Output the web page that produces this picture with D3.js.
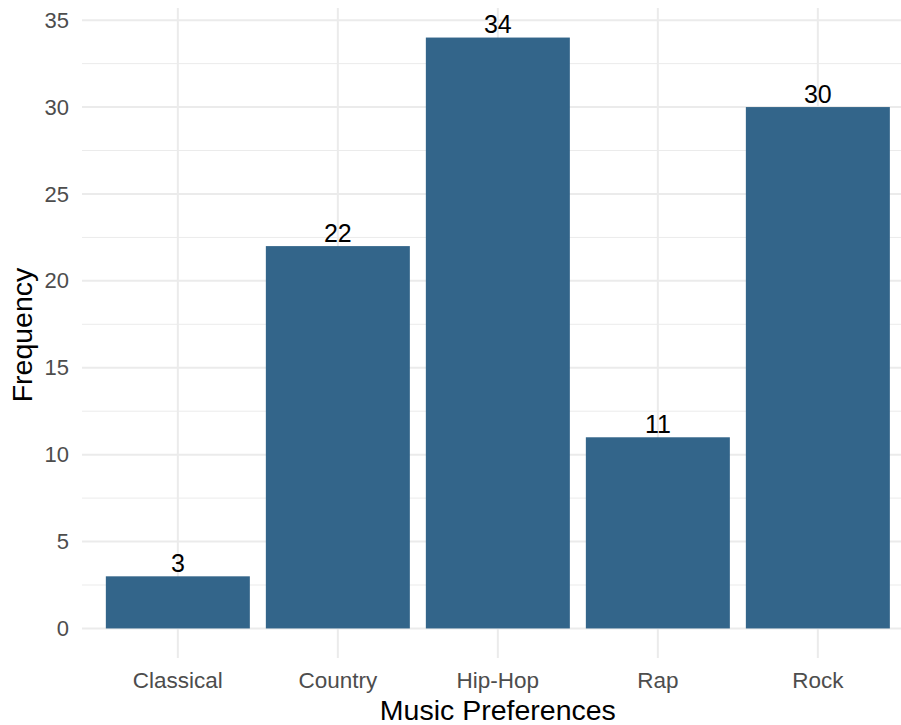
<!DOCTYPE html>
<html><head><meta charset="utf-8">
<script src="https://cdn.jsdelivr.net/npm/d3@7"></script>
<style>body{margin:0;background:#fff}svg{display:block;font-family:"Liberation Sans",Arial,sans-serif}</style>
</head><body>
<script>
const categories = ["Classical","Country","Hip-Hop","Rap","Rock"];
const frequencies = [3,22,34,11,30];
const yTicks = [0,5,10,15,20,25,30,35];
const yMinor = [2.5,7.5,12.5,17.5,22.5,27.5,32.5];
const xTitle = "Music Preferences";
const yTitle = "Frequency";

(function(){
const W = 901, H = 725;
const pL = 82, pR = 913.7, pT = 8, pB = 658;
const svg = d3.select("body").append("svg").attr("width", W).attr("height", H);

const x = d3.scaleBand().domain(categories).range([pL, pR]).paddingInner(0.1).paddingOuter(0.149);
const y = d3.scaleLinear().domain([-1.7, 35.7]).range([pB, pT]);

const grid = svg.append("g");
grid.selectAll(".minor").data(yMinor).join("line")
  .attr("x1", pL).attr("x2", W).attr("y1", d => y(d)).attr("y2", d => y(d))
  .attr("stroke", "#ebebeb").attr("stroke-width", 1);
grid.selectAll(".major").data(yTicks).join("line")
  .attr("x1", pL).attr("x2", W).attr("y1", d => y(d)).attr("y2", d => y(d))
  .attr("stroke", "#ebebeb").attr("stroke-width", 2);
grid.selectAll(".vx").data(categories).join("line")
  .attr("x1", d => x(d) + x.bandwidth()/2).attr("x2", d => x(d) + x.bandwidth()/2)
  .attr("y1", pT).attr("y2", pB)
  .attr("stroke", "#ebebeb").attr("stroke-width", 2);

svg.append("g").selectAll("rect").data(categories).join("rect")
  .attr("x", d => x(d)).attr("width", x.bandwidth())
  .attr("y", (d,i) => y(frequencies[i])).attr("height", (d,i) => y(0) - y(frequencies[i]))
  .attr("fill", "#33658a");

svg.append("g").selectAll("text").data(categories).join("text")
  .attr("x", d => x(d) + x.bandwidth()/2).attr("y", (d,i) => y(frequencies[i]) - 4.5)
  .attr("text-anchor", "middle").attr("font-size", 25).attr("fill", "#000")
  .text((d,i) => frequencies[i]);

const yAxis = d3.axisLeft(y).tickValues(yTicks).tickSize(0).tickPadding(13);
const ga = svg.append("g").attr("transform", `translate(${pL},0)`).call(yAxis);
ga.select(".domain").remove();
ga.selectAll("text").attr("font-size", 22).attr("fill", "#4d4d4d");
ga.attr("font-family", null).attr("font-size", null);

const xAxis = d3.axisBottom(x).tickSize(0).tickPadding(14);
const gx = svg.append("g").attr("transform", `translate(0,${pB})`).call(xAxis);
gx.select(".domain").remove();
gx.selectAll("text").attr("font-size", 22.5).attr("fill", "#4d4d4d");
gx.attr("font-family", null).attr("font-size", null);

svg.append("text").attr("x", (pL + pR)/2).attr("y", 720).attr("text-anchor", "middle")
  .attr("font-size", 28.5).attr("fill", "#000").text(xTitle);
svg.append("text").attr("transform", `translate(32,${(pT+pB)/2 + 2}) rotate(-90)`).attr("text-anchor", "middle")
  .attr("font-size", 28.5).attr("fill", "#000").text(yTitle);
})();
</script>
</body></html>
